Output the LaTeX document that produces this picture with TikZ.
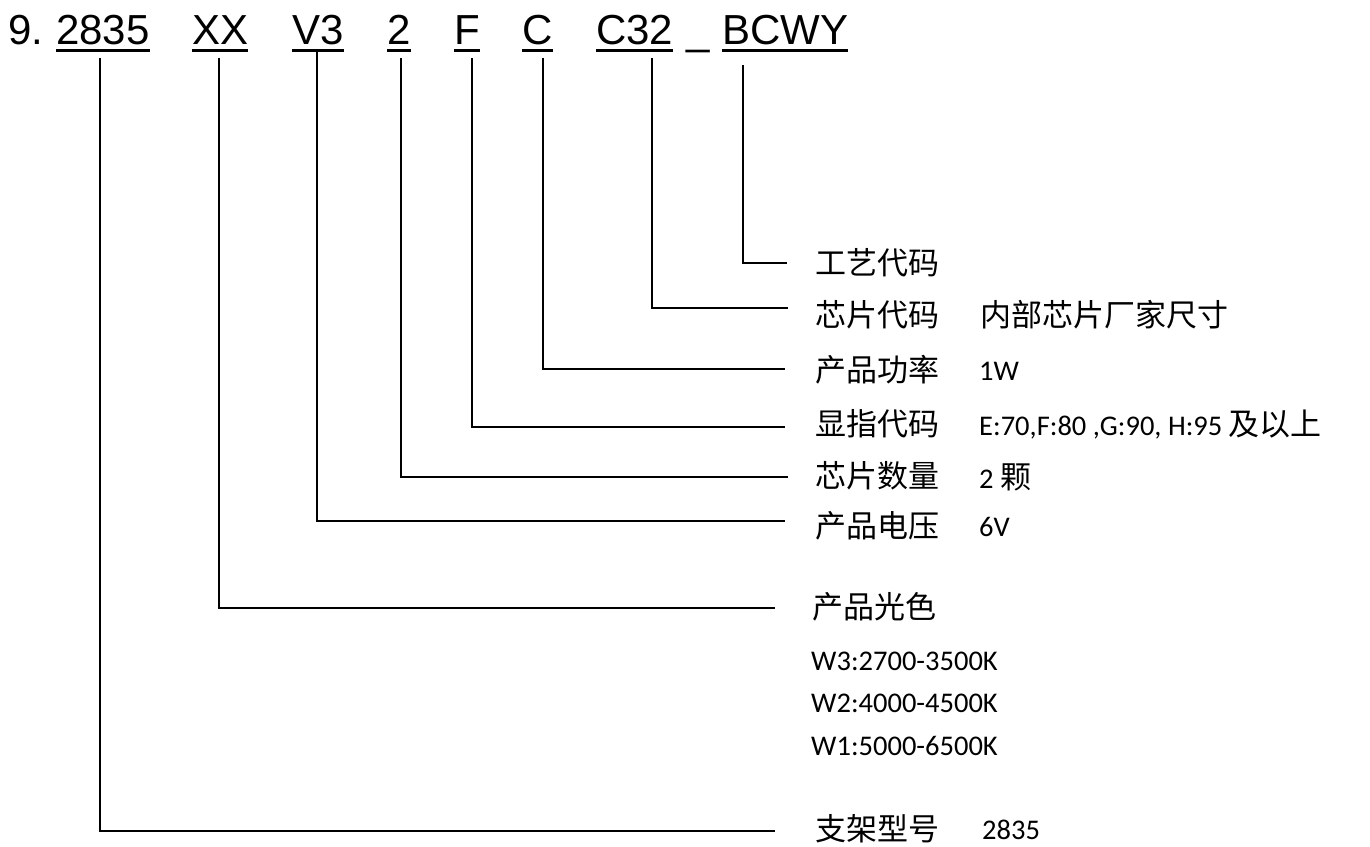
\documentclass[tikz,border=0pt]{standalone}
\usepackage{fontspec}
\setmainfont{Carlito}
\newfontfamily\cjk{Noto Sans CJK SC}
\newfontfamily\arialf{Liberation Sans}
\begin{document}
\begin{tikzpicture}[x=1pt,y=-1pt,
  titleword/.style={anchor=base west,inner sep=0pt,font=\arialf\fontsize{42}{50}\selectfont},
  uline/.style={line width=3pt},
  conn/.style={line width=1.5pt},
  lab/.style={anchor=west,inner sep=0pt,font=\cjk\fontsize{31}{34}\selectfont},
  val/.style={anchor=west,inner sep=0pt,font=\fontsize{28.5}{32}\selectfont}]
\useasboundingbox (0,0) rectangle (1370,846);
% title
\node[titleword] (t0) at (8,44) {9.};
\node[titleword] (w1) at (56,44) {2835};
\node[titleword] (w2) at (192,44) {XX};
\node[titleword] (w3) at (292,44) {V3};
\node[titleword] (w4) at (387,44) {2};
\node[titleword] (w5) at (454,44) {F};
\node[titleword] (w6) at (522,44) {C};
\node[titleword] (w7) at (596,44) {C32};
\node[titleword] (w8) at (686,44) {\_};
\node[titleword] (w9) at (722,44) {BCWY};
\foreach \w in {w1,w2,w3,w4,w5,w6,w7,w9}
  \draw[uline] ([yshift=-6pt]\w.base west) -- ([yshift=-6pt]\w.base east);
% connector starts
\coordinate (s1) at (100,58);
\coordinate (s2) at (219,58);
\coordinate (s3) at (317,50);
\coordinate (s4) at (401,58);
\coordinate (s5) at (472,58);
\coordinate (s6) at (543,58);
\coordinate (s7) at (652,58);
\coordinate (s9) at (743,65);
% connector ends
\coordinate (e9) at (787,263);
\coordinate (e7) at (788,308);
\coordinate (e6) at (785,369);
\coordinate (e5) at (785,427);
\coordinate (e4) at (788,477);
\coordinate (e3) at (785,521);
\coordinate (e2) at (775,608);
\coordinate (e1) at (775,831);
\foreach \i in {1,2,3,4,5,6,7,9}
  \draw[conn] (s\i) |- (e\i);
% labels
\node[lab] (l9) at (815,263) {工艺代码};
\node[lab] (l7) at (815,315) {芯片代码};
\node[val,font=\cjk\fontsize{31}{34}\selectfont] (v7) at (980,315) {内部芯片厂家尺寸};
\node[lab] (l6) at (815,370) {产品功率};
\node[val] (v6) at (979,371) {1W};
\node[lab] (l5) at (815,424) {显指代码};
\node[val] (v5) at (979,425) {E:70,F:80 ,G:90, H:95 {\cjk\fontsize{31}{34}\selectfont 及以上}};
\node[lab] (l4) at (815,476) {芯片数量};
\node[val] (v4) at (979,477) {2 {\cjk\fontsize{31}{34}\selectfont 颗}};
\node[lab] (l3) at (815,526) {产品电压};
\node[val] (v3) at (979,527) {6V};
\node[lab] (l2) at (812,607) {产品光色};
\node[val] (c1) at (811,661) {W3:2700-3500K};
\node[val] (c2) at (811,703) {W2:4000-4500K};
\node[val] (c3) at (811,746) {W1:5000-6500K};
\node[lab] (l1) at (815,829) {支架型号};
\node[val] (v1) at (982,830) {2835};
\end{tikzpicture}
\end{document}
